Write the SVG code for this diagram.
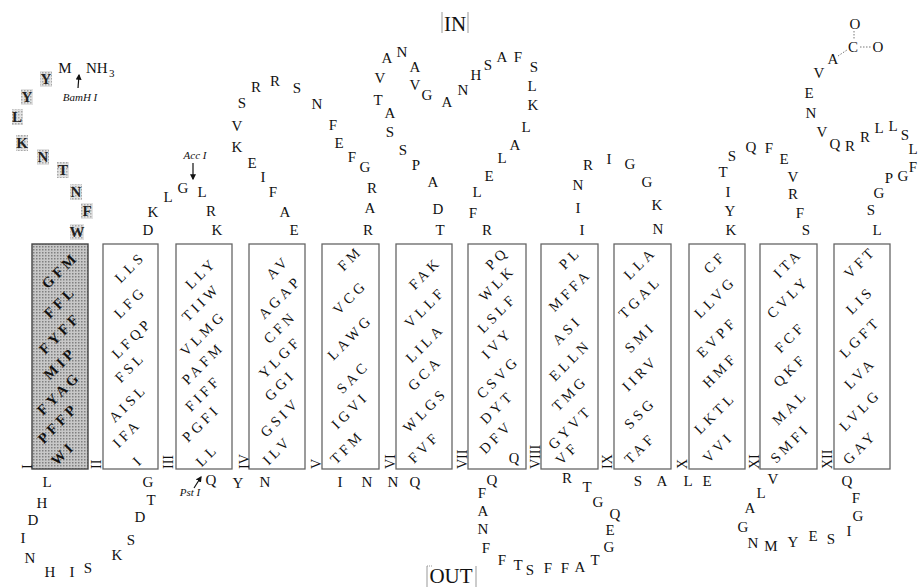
<svg xmlns="http://www.w3.org/2000/svg" width="919" height="588" viewBox="0 0 919 588">
<style>
text{font-family:"Liberation Serif","Times New Roman",serif;fill:#111}
.aa{font-size:15px;text-anchor:middle;dominant-baseline:central}
.hl{font-weight:bold;fill:#222}
.tm{font-size:14.5px;letter-spacing:3.8px;text-anchor:middle;dominant-baseline:central}
.tmb{font-weight:bold}
.rn{font-size:14px;text-anchor:start}
.it{font-style:italic;font-size:11px;text-anchor:middle}
.big{font-size:21px;text-anchor:middle}
.box{fill:#fff;stroke:#666;stroke-width:1.3}
.gbox{fill:url(#ht);stroke:#444;stroke-width:1.4}
.hb{fill:url(#ht2)}
.frame{stroke:#999;stroke-width:1;fill:none}
.dot{stroke:#555;stroke-width:0.8;stroke-dasharray:1.5 1.5;fill:none}
.arr{stroke:#111;stroke-width:1.2;fill:none;marker-end:url(#ah)}
</style>
<defs>
<pattern id="ht" width="3" height="3" patternUnits="userSpaceOnUse"><rect width="3" height="3" fill="#c8c8c8"/><rect width="1.5" height="1.5" fill="#808080"/></pattern>
<pattern id="ht2" width="3" height="3" patternUnits="userSpaceOnUse"><rect width="3" height="3" fill="#e2e2e2"/><rect width="1.5" height="1.5" fill="#a8a8a8"/></pattern>
<marker id="ah" viewBox="0 0 10 10" refX="8" refY="5" markerWidth="5" markerHeight="5" orient="auto"><path d="M0,0 L10,5 L0,10 z" fill="#111"/></marker>
</defs>

<g id="labels">
<text class="big" x="455" y="31">IN</text>
<line class="frame" x1="442" y1="12" x2="442" y2="33"/><line class="frame" x1="468" y1="12" x2="468" y2="33"/>
<text class="big" x="451" y="583">OUT</text>
<line class="frame" x1="427" y1="566" x2="427" y2="587"/><line class="frame" x1="476" y1="566" x2="476" y2="587"/>
<line class="frame" x1="427" y1="566" x2="433" y2="566" style="stroke-dasharray:1 1"/>
</g>

<g id="connectors">
<line class="arr" x1="78" y1="88" x2="79" y2="75"/>
<line class="arr" x1="193" y1="163" x2="193" y2="179"/>
<line class="arr" x1="194" y1="488" x2="201" y2="477"/>
<line class="dot" x1="854" y1="31" x2="854" y2="40"/>
<line class="dot" x1="860" y1="47" x2="871" y2="47"/>
<line class="dot" x1="838" y1="56" x2="847" y2="50"/>
</g>

<g id="nterm">
<rect class="hb" x="40" y="71" width="12" height="16"/>
<rect class="hb" x="21" y="89" width="12" height="16"/>
<rect class="hb" x="12" y="109" width="11" height="16"/>
<rect class="hb" x="16" y="135" width="12" height="16"/>
<rect class="hb" x="37" y="149" width="12" height="16"/>
<rect class="hb" x="57" y="162" width="12" height="16"/>
<rect class="hb" x="70" y="184" width="12" height="16"/>
<rect class="hb" x="81" y="203" width="12" height="16"/>
<rect class="hb" x="70" y="224" width="14" height="16"/>
<text class="aa hl" x="46" y="79">Y</text>
<text class="aa hl" x="27" y="97">Y</text>
<text class="aa hl" x="17" y="117">L</text>
<text class="aa hl" x="22" y="143">K</text>
<text class="aa hl" x="43" y="157">N</text>
<text class="aa hl" x="63" y="170">T</text>
<text class="aa hl" x="76" y="192">N</text>
<text class="aa hl" x="87" y="211">F</text>
<text class="aa hl" x="77" y="232">W</text>
<text class="aa" x="65" y="68">M</text>
<text x="86" y="73" style="font-size:15px">NH</text>
<text x="109" y="77" style="font-size:11px">3</text>
<text class="it" x="80" y="101">BamH I</text>
</g>

<g id="tm1">
<rect class="gbox" x="32" y="244" width="56" height="225"/>
<text class="tm tmb" x="60" y="270" transform="rotate(-45 60 270)">GFM</text>
<text class="tm tmb" x="60" y="302" transform="rotate(-45 60 302)">FFL</text>
<text class="tm tmb" x="60" y="333" transform="rotate(-45 60 333)">FYFF</text>
<text class="tm tmb" x="60" y="363" transform="rotate(-45 60 363)">MIP</text>
<text class="tm tmb" x="59" y="393" transform="rotate(-45 59 393)">FYAG</text>
<text class="tm tmb" x="58" y="423" transform="rotate(-45 58 423)">PFFP</text>
<text class="tm tmb" x="63" y="453" transform="rotate(-45 63 453)">WI</text>
<text class="rn" x="32" y="469" transform="rotate(-90 32 469)">I</text>
</g>

<g id="loop1">
<text class="aa" x="47" y="482">L</text>
<text class="aa" x="42" y="503">H</text>
<text class="aa" x="33" y="520">D</text>
<text class="aa" x="23" y="538">I</text>
<text class="aa" x="30" y="558">N</text>
<text class="aa" x="50" y="572">H</text>
<text class="aa" x="72" y="572">I</text>
<text class="aa" x="88" y="568">S</text>
<text class="aa" x="117" y="555">K</text>
<text class="aa" x="131" y="540">S</text>
<text class="aa" x="140" y="517">D</text>
<text class="aa" x="151" y="500">T</text>
<text class="aa" x="148" y="482">G</text>
</g>

<g id="tm2">
<rect class="box" x="103" y="244" width="55" height="225"/>
<text class="tm" x="130" y="267" transform="rotate(-45 130 267)">LLS</text>
<text class="tm" x="130" y="302" transform="rotate(-45 130 302)">LFG</text>
<text class="tm" x="132" y="338" transform="rotate(-45 132 338)">LFQP</text>
<text class="tm" x="130" y="367" transform="rotate(-45 130 367)">FSL</text>
<text class="tm" x="128" y="403" transform="rotate(-45 128 403)">AISL</text>
<text class="tm" x="127" y="433" transform="rotate(-45 127 433)">IFA</text>
<text class="tm" x="138" y="460" transform="rotate(-45 138 460)">I</text>
<text class="rn" x="101" y="469" transform="rotate(-90 101 469)">II</text>
</g>

<g id="loop2">
<text class="aa" x="148" y="230">D</text>
<text class="aa" x="153" y="212">K</text>
<text class="aa" x="168" y="197">L</text>
<text class="aa" x="183" y="188">G</text>
<text class="aa" x="202" y="192">L</text>
<text class="aa" x="211" y="211">R</text>
<text class="aa" x="217" y="230">K</text>
<text class="it" x="195" y="159">Acc I</text>
</g>

<g id="tm3">
<rect class="box" x="176" y="244" width="56" height="225"/>
<text class="tm" x="201" y="273" transform="rotate(-45 201 273)">LLY</text>
<text class="tm" x="201" y="302" transform="rotate(-45 201 302)">TIIW</text>
<text class="tm" x="203" y="333" transform="rotate(-45 203 333)">VLMG</text>
<text class="tm" x="203" y="363" transform="rotate(-45 203 363)">PAFM</text>
<text class="tm" x="203" y="393" transform="rotate(-45 203 393)">FIFF</text>
<text class="tm" x="201" y="423" transform="rotate(-45 201 423)">PGFI</text>
<text class="tm" x="207" y="455" transform="rotate(-45 207 455)">LL</text>
<text class="rn" x="173" y="469" transform="rotate(-90 173 469)">III</text>
</g>

<g id="loop3">
<text class="aa" x="211" y="480">Q</text>
<text class="aa" x="238" y="483">Y</text>
<text class="aa" x="265" y="482">N</text>
<text class="it" x="190" y="496">Pst I</text>
</g>

<g id="tm4">
<rect class="box" x="249" y="244" width="56" height="225"/>
<text class="tm" x="278" y="267" transform="rotate(-45 278 267)">AV</text>
<text class="tm" x="280" y="297" transform="rotate(-45 280 297)">AGAP</text>
<text class="tm" x="280" y="327" transform="rotate(-45 280 327)">CFN</text>
<text class="tm" x="280" y="357" transform="rotate(-45 280 357)">YLGF</text>
<text class="tm" x="280" y="385" transform="rotate(-45 280 385)">GGI</text>
<text class="tm" x="280" y="417" transform="rotate(-45 280 417)">GSIV</text>
<text class="tm" x="277" y="450" transform="rotate(-45 277 450)">ILV</text>
<text class="rn" x="249" y="469" transform="rotate(-90 249 469)">IV</text>
</g>

<g id="loop4">
<text class="aa" x="294" y="230">E</text>
<text class="aa" x="285" y="212">A</text>
<text class="aa" x="273" y="192">F</text>
<text class="aa" x="263" y="177">I</text>
<text class="aa" x="252" y="163">E</text>
<text class="aa" x="237" y="147">K</text>
<text class="aa" x="237" y="126">V</text>
<text class="aa" x="242" y="103">S</text>
<text class="aa" x="256" y="87">R</text>
<text class="aa" x="275" y="81">R</text>
<text class="aa" x="297" y="88">S</text>
<text class="aa" x="317" y="104">N</text>
<text class="aa" x="333" y="125">F</text>
<text class="aa" x="339" y="143">E</text>
<text class="aa" x="352" y="157">F</text>
<text class="aa" x="365" y="167">G</text>
<text class="aa" x="372" y="188">R</text>
<text class="aa" x="370" y="208">A</text>
<text class="aa" x="368" y="230">R</text>
</g>

<g id="tm5">
<rect class="box" x="322" y="244" width="57" height="225"/>
<text class="tm" x="350" y="258" transform="rotate(-45 350 258)">FM</text>
<text class="tm" x="350" y="297" transform="rotate(-45 350 297)">VCG</text>
<text class="tm" x="350" y="337" transform="rotate(-45 350 337)">LAWG</text>
<text class="tm" x="353" y="377" transform="rotate(-45 353 377)">SAC</text>
<text class="tm" x="350" y="410" transform="rotate(-45 350 410)">IGVI</text>
<text class="tm" x="347" y="447" transform="rotate(-45 347 447)">TFM</text>
<text class="rn" x="321" y="469" transform="rotate(-90 321 469)">V</text>
</g>

<g id="loop5">
<text class="aa" x="340" y="482">I</text>
<text class="aa" x="367" y="482">N</text>
<text class="aa" x="393" y="482">N</text>
<text class="aa" x="415" y="482">Q</text>
</g>

<g id="tm6">
<rect class="box" x="396" y="244" width="56" height="225"/>
<text class="tm" x="425" y="273" transform="rotate(-45 425 273)">FAK</text>
<text class="tm" x="425" y="307" transform="rotate(-45 425 307)">VLLF</text>
<text class="tm" x="425" y="343" transform="rotate(-45 425 343)">LILA</text>
<text class="tm" x="425" y="373" transform="rotate(-45 425 373)">GCA</text>
<text class="tm" x="425" y="410" transform="rotate(-45 425 410)">WLGS</text>
<text class="tm" x="424" y="447" transform="rotate(-45 424 447)">FVF</text>
<text class="rn" x="395" y="469" transform="rotate(-90 395 469)">VI</text>
</g>

<g id="loop6">
<text class="aa" x="440" y="230">T</text>
<text class="aa" x="438" y="209">D</text>
<text class="aa" x="433" y="182">A</text>
<text class="aa" x="416" y="165">P</text>
<text class="aa" x="403" y="150">S</text>
<text class="aa" x="390" y="132">S</text>
<text class="aa" x="390" y="113">A</text>
<text class="aa" x="378" y="100">T</text>
<text class="aa" x="380" y="78">V</text>
<text class="aa" x="387" y="58">A</text>
<text class="aa" x="402" y="52">N</text>
<text class="aa" x="415" y="67">A</text>
<text class="aa" x="415" y="85">V</text>
<text class="aa" x="427" y="95">G</text>
<text class="aa" x="447" y="102">A</text>
<text class="aa" x="463" y="90">N</text>
<text class="aa" x="476" y="75">H</text>
<text class="aa" x="488" y="65">S</text>
<text class="aa" x="502" y="57">A</text>
<text class="aa" x="518" y="57">F</text>
<text class="aa" x="534" y="67">S</text>
<text class="aa" x="532" y="86">L</text>
<text class="aa" x="533" y="105">K</text>
<text class="aa" x="526" y="127">L</text>
<text class="aa" x="515" y="145">A</text>
<text class="aa" x="502" y="158">L</text>
<text class="aa" x="489" y="176">E</text>
<text class="aa" x="477" y="192">L</text>
<text class="aa" x="473" y="213">F</text>
<text class="aa" x="487" y="230">R</text>
</g>

<g id="tm7">
<rect class="box" x="468" y="244" width="58" height="225"/>
<text class="tm" x="497" y="258" transform="rotate(-45 497 258)">PQ</text>
<text class="tm" x="497" y="283" transform="rotate(-45 497 283)">WLK</text>
<text class="tm" x="497" y="313" transform="rotate(-45 497 313)">LSLF</text>
<text class="tm" x="497" y="343" transform="rotate(-45 497 343)">IVY</text>
<text class="tm" x="498" y="377" transform="rotate(-45 498 377)">CSVG</text>
<text class="tm" x="497" y="407" transform="rotate(-45 497 407)">DYT</text>
<text class="tm" x="496" y="437" transform="rotate(-45 496 437)">DFV</text>
<text class="aa" x="514" y="458" style="font-size:14.5px">Q</text>
<text class="rn" x="467" y="469" transform="rotate(-90 467 469)">VII</text>
</g>

<g id="loop7">
<text class="aa" x="492" y="480">Q</text>
<text class="aa" x="482" y="493">F</text>
<text class="aa" x="483" y="511">A</text>
<text class="aa" x="483" y="529">N</text>
<text class="aa" x="486" y="548">F</text>
<text class="aa" x="502" y="560">F</text>
<text class="aa" x="518" y="565">T</text>
<text class="aa" x="530" y="570">S</text>
<text class="aa" x="548" y="568">F</text>
<text class="aa" x="565" y="568">F</text>
<text class="aa" x="580" y="567">A</text>
<text class="aa" x="595" y="560">T</text>
<text class="aa" x="609" y="547">G</text>
<text class="aa" x="610" y="530">E</text>
<text class="aa" x="615" y="514">Q</text>
<text class="aa" x="598" y="502">G</text>
<text class="aa" x="587" y="487">T</text>
<text class="aa" x="567" y="478">R</text>
</g>

<g id="tm8">
<rect class="box" x="541" y="244" width="57" height="225"/>
<text class="tm" x="570" y="258" transform="rotate(-45 570 258)">PL</text>
<text class="tm" x="570" y="290" transform="rotate(-45 570 290)">MFFA</text>
<text class="tm" x="567" y="330" transform="rotate(-45 567 330)">ASI</text>
<text class="tm" x="570" y="360" transform="rotate(-45 570 360)">ELLN</text>
<text class="tm" x="570" y="393" transform="rotate(-45 570 393)">TMG</text>
<text class="tm" x="570" y="427" transform="rotate(-45 570 427)">GYVT</text>
<text class="tm" x="567" y="453" transform="rotate(-45 567 453)">VF</text>
<text class="rn" x="540" y="469" transform="rotate(-90 540 469)">VIII</text>
</g>

<g id="loop8">
<text class="aa" x="582" y="230">I</text>
<text class="aa" x="578" y="208">I</text>
<text class="aa" x="578" y="185">N</text>
<text class="aa" x="588" y="165">R</text>
<text class="aa" x="609" y="159">I</text>
<text class="aa" x="630" y="164">G</text>
<text class="aa" x="647" y="182">G</text>
<text class="aa" x="657" y="205">K</text>
<text class="aa" x="658" y="229">N</text>
</g>

<g id="tm9">
<rect class="box" x="614" y="244" width="57" height="225"/>
<text class="tm" x="640" y="263" transform="rotate(-45 640 263)">LLA</text>
<text class="tm" x="640" y="297" transform="rotate(-45 640 297)">TGAL</text>
<text class="tm" x="640" y="337" transform="rotate(-45 640 337)">SMI</text>
<text class="tm" x="640" y="373" transform="rotate(-45 640 373)">IIRV</text>
<text class="tm" x="640" y="413" transform="rotate(-45 640 413)">SSG</text>
<text class="tm" x="640" y="448" transform="rotate(-45 640 448)">TAF</text>
<text class="rn" x="612" y="469" transform="rotate(-90 612 469)">IX</text>
</g>

<g id="loop9">
<text class="aa" x="638" y="481">S</text>
<text class="aa" x="662" y="481">A</text>
<text class="aa" x="688" y="481">L</text>
<text class="aa" x="707" y="481">E</text>
</g>

<g id="tm10">
<rect class="box" x="689" y="244" width="56" height="225"/>
<text class="tm" x="715" y="262" transform="rotate(-45 715 262)">CF</text>
<text class="tm" x="715" y="297" transform="rotate(-45 715 297)">LLVG</text>
<text class="tm" x="717" y="337" transform="rotate(-45 717 337)">EVPF</text>
<text class="tm" x="720" y="370" transform="rotate(-45 720 370)">HMF</text>
<text class="tm" x="715" y="413" transform="rotate(-45 715 413)">LKTL</text>
<text class="tm" x="718" y="447" transform="rotate(-45 718 447)">VVI</text>
<text class="rn" x="687" y="469" transform="rotate(-90 687 469)">X</text>
</g>

<g id="loop10">
<text class="aa" x="731" y="230">K</text>
<text class="aa" x="730" y="211">Y</text>
<text class="aa" x="728" y="192">I</text>
<text class="aa" x="723" y="172">T</text>
<text class="aa" x="732" y="156">S</text>
<text class="aa" x="751" y="147">Q</text>
<text class="aa" x="769" y="148">F</text>
<text class="aa" x="784" y="159">E</text>
<text class="aa" x="793" y="177">V</text>
<text class="aa" x="793" y="194">R</text>
<text class="aa" x="800" y="213">F</text>
<text class="aa" x="806" y="230">S</text>
</g>

<g id="tm11">
<rect class="box" x="760" y="244" width="57" height="225"/>
<text class="tm" x="788" y="263" transform="rotate(-45 788 263)">ITA</text>
<text class="tm" x="788" y="297" transform="rotate(-45 788 297)">CVLY</text>
<text class="tm" x="790" y="337" transform="rotate(-45 790 337)">FCF</text>
<text class="tm" x="790" y="370" transform="rotate(-45 790 370)">QKF</text>
<text class="tm" x="790" y="407" transform="rotate(-45 790 407)">MAL</text>
<text class="tm" x="790" y="443" transform="rotate(-45 790 443)">SMFI</text>
<text class="rn" x="759" y="469" transform="rotate(-90 759 469)">XI</text>
</g>

<g id="loop11">
<text class="aa" x="773" y="479">V</text>
<text class="aa" x="761" y="493">L</text>
<text class="aa" x="750" y="508">A</text>
<text class="aa" x="743" y="527">G</text>
<text class="aa" x="753" y="543">N</text>
<text class="aa" x="771" y="546">M</text>
<text class="aa" x="793" y="542">Y</text>
<text class="aa" x="813" y="536">E</text>
<text class="aa" x="831" y="539">S</text>
<text class="aa" x="849" y="531">I</text>
<text class="aa" x="858" y="516">G</text>
<text class="aa" x="856" y="498">F</text>
<text class="aa" x="847" y="481">Q</text>
</g>

<g id="tm12">
<rect class="box" x="834" y="244" width="56" height="225"/>
<text class="tm" x="860" y="262" transform="rotate(-45 860 262)">VFT</text>
<text class="tm" x="860" y="300" transform="rotate(-45 860 300)">LIS</text>
<text class="tm" x="860" y="337" transform="rotate(-45 860 337)">LGFT</text>
<text class="tm" x="860" y="373" transform="rotate(-45 860 373)">LVA</text>
<text class="tm" x="860" y="410" transform="rotate(-45 860 410)">LVLG</text>
<text class="tm" x="860" y="447" transform="rotate(-45 860 447)">GAY</text>
<text class="rn" x="832" y="469" transform="rotate(-90 832 469)">XII</text>
</g>

<g id="cterm">
<text class="aa" x="877" y="230">L</text>
<text class="aa" x="871" y="210">S</text>
<text class="aa" x="879" y="193">G</text>
<text class="aa" x="889" y="178">P</text>
<text class="aa" x="903" y="176">G</text>
<text class="aa" x="913" y="167">F</text>
<text class="aa" x="913" y="149">L</text>
<text class="aa" x="905" y="135">S</text>
<text class="aa" x="893" y="126">L</text>
<text class="aa" x="879" y="128">L</text>
<text class="aa" x="865" y="137">R</text>
<text class="aa" x="850" y="146">R</text>
<text class="aa" x="835" y="144">Q</text>
<text class="aa" x="822" y="132">V</text>
<text class="aa" x="811" y="113">N</text>
<text class="aa" x="809" y="93">E</text>
<text class="aa" x="819" y="73">V</text>
<text class="aa" x="833" y="59">A</text>
<text class="aa" x="853" y="47">C</text>
<text class="aa" x="878" y="47">O</text>
<text class="aa" x="855" y="24">O</text>
</g>
</svg>
